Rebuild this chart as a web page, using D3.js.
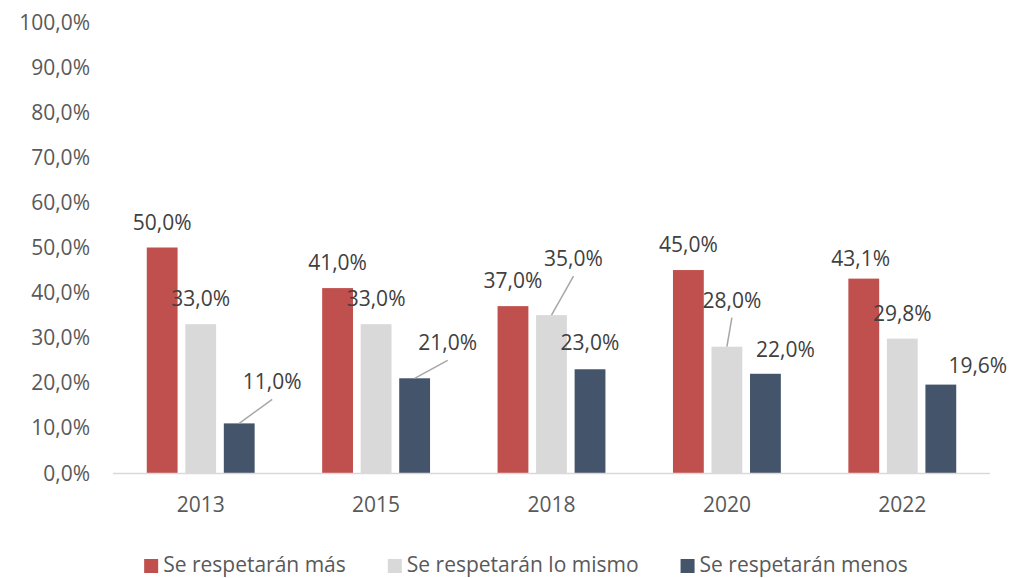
<!DOCTYPE html>
<html>
<head>
<meta charset="utf-8">
<script src="https://cdn.jsdelivr.net/npm/d3@7"></script>
<style>
  body { margin: 0; background: #fff; }
  text { font-family: "Open Sans", sans-serif; }
</style>
</head>
<body>
<script>
// Chart data
var years = ["2013", "2015", "2018", "2020", "2022"];
var seriesNames = ["Se respetarán más", "Se respetarán lo mismo", "Se respetarán menos"];
var mas = [50.0, 41.0, 37.0, 45.0, 43.1];
var mismo = [33.0, 33.0, 35.0, 28.0, 29.8];
var menos = [11.0, 21.0, 23.0, 22.0, 19.6];
var yTicks = [0, 10, 20, 30, 40, 50, 60, 70, 80, 90, 100];

var values = [mas, mismo, menos];
var colors = ["#C0504D", "#D9D9D9", "#44546A"];

// Label placement tweaks (dx from bar centre, dy from bar top, leader line or not)
var labelShift = [
    [[0, -18], [0, -18], [0, -18], [0, -18], [-3, -13]],
    [[0, -18], [0, -18], [22, -49], [5, -39], [0, -18]],
    [[33, -34], [33, -28], [0, -19], [20, -17], [37, -12]]
];
var leaders = [
    [false, false, false, false, false],
    [false, false, true, true, false],
    [true, true, false, false, false]
];

var width = 1010;
var height = 578;

var svg = d3.select("body")
            .append("svg")
            .attr("width", width)
            .attr("height", height);

var x0 = d3.scaleBand()
            .domain(years)
            .range([113, 990])
            .paddingInner(0.385)
            .paddingOuter(0.1925);

var x1 = d3.scaleBand()
            .domain(d3.range(seriesNames.length))
            .range([0, x0.bandwidth()])
            .paddingInner(0.2);

var y = d3.scaleLinear()
            .domain([0, 100])
            .range([473, 22]);

function fmt(v) { return v.toFixed(1).replace(".", ",") + "%"; }

// Y axis labels (no line, no ticks)
svg.selectAll("text.ylab")
    .data(yTicks)
    .enter()
    .append("text")
    .attr("class", "ylab")
    .attr("x", 90)
    .attr("y", function(d) { return y(d); })
    .attr("dy", "0.36em")
    .attr("text-anchor", "end")
    .style("font-size", "21px")
    .style("fill", "#595959")
    .text(fmt);

// Bars
var rows = [];
values.forEach(function(arr, s) {
    arr.forEach(function(v, i) {
        rows.push({ s: s, i: i, year: years[i], value: v });
    });
});

svg.selectAll("rect.bar")
    .data(rows)
    .enter()
    .append("rect")
    .attr("class", "bar")
    .attr("x", function(d) { return x0(d.year) + x1(d.s); })
    .attr("y", function(d) { return y(d.value); })
    .attr("width", x1.bandwidth())
    .attr("height", function(d) { return y(0) - y(d.value); })
    .style("fill", function(d) { return colors[d.s]; });

// X axis line
svg.append("line")
    .attr("x1", 113)
    .attr("x2", 990)
    .attr("y1", y(0) + 0.5)
    .attr("y2", y(0) + 0.5)
    .style("stroke", "#D9D9D9")
    .style("stroke-width", 1.5);

// Category labels
svg.selectAll("text.xlab")
    .data(years)
    .enter()
    .append("text")
    .attr("class", "xlab")
    .attr("x", function(d) { return x0(d) + x0.bandwidth() / 2; })
    .attr("y", 512)
    .attr("text-anchor", "middle")
    .style("font-size", "21px")
    .style("fill", "#595959")
    .text(function(d) { return d; });

// Leader lines
function cx(d) { return x0(d.year) + x1(d.s) + x1.bandwidth() / 2; }
function lx(d) { return cx(d) + labelShift[d.s][d.i][0]; }
function ly(d) { return y(d.value) + labelShift[d.s][d.i][1]; }

svg.selectAll("line.leader")
    .data(rows.filter(function(d) { return leaders[d.s][d.i]; }))
    .enter()
    .append("line")
    .attr("class", "leader")
    .attr("x1", cx)
    .attr("y1", function(d) { return y(d.value); })
    .attr("x2", lx)
    .attr("y2", function(d) { return ly(d) + 10; })
    .style("stroke", "#A6A6A6")
    .style("stroke-width", 1.5);

// Data labels
svg.selectAll("text.vlab")
    .data(rows)
    .enter()
    .append("text")
    .attr("class", "vlab")
    .attr("x", lx)
    .attr("y", ly)
    .attr("text-anchor", "middle")
    .style("font-size", "21px")
    .style("fill", "#404040")
    .text(function(d) { return fmt(d.value); });

// Legend
var legend = svg.selectAll("g.legend")
                .data(seriesNames)
                .enter()
                .append("g")
                .attr("class", "legend");

legend.append("rect")
    .attr("width", 14)
    .attr("height", 14)
    .attr("y", 559)
    .style("fill", function(d, i) { return colors[i]; });

legend.append("text")
    .attr("x", 19)
    .attr("y", 572)
    .style("font-size", "21px")
    .style("fill", "#595959")
    .text(function(d) { return d; });

var widths = [];
legend.selectAll("text").each(function() { widths.push(19 + this.getComputedTextLength()); });
var gap = 42;
var total = d3.sum(widths) + gap * (widths.length - 1);
var start = 526 - total / 2;
legend.attr("transform", function(d, i) {
    var off = start + d3.sum(widths.slice(0, i)) + gap * i;
    return "translate(" + off + ",0)";
});
</script>
</body>
</html>
